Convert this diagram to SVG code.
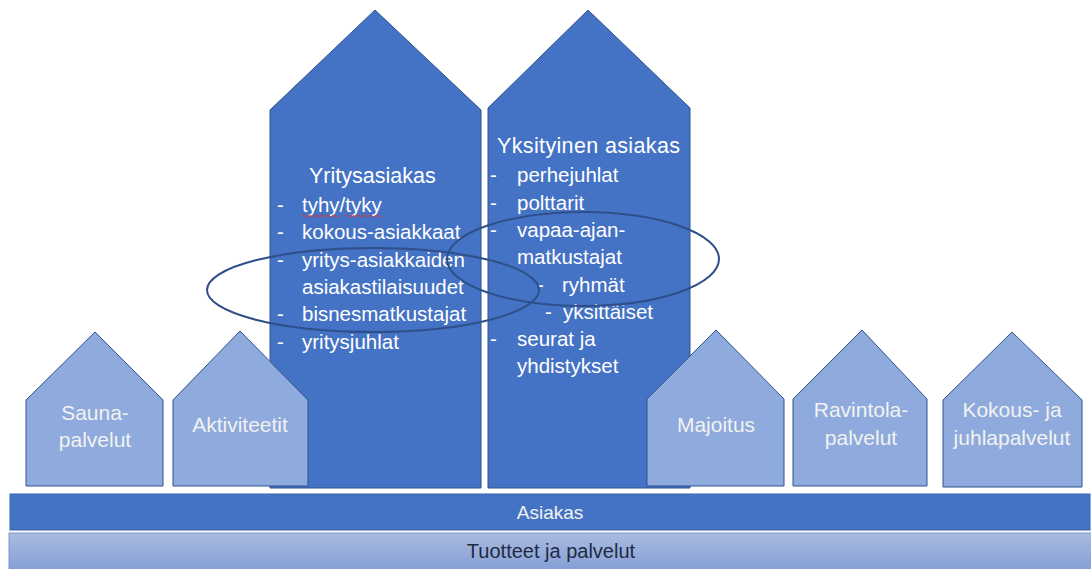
<svg xmlns="http://www.w3.org/2000/svg" width="1091" height="569" viewBox="0 0 1091 569">
  <defs>
    <linearGradient id="barGrad" x1="0" y1="0" x2="0" y2="1">
      <stop offset="0" stop-color="#AABBE0"/>
      <stop offset="1" stop-color="#859FD6"/>
    </linearGradient>
  </defs>
  <style>
    .big { fill: #4472C4; stroke: #2F528F; stroke-width: 1; }
    .small { fill: #8FAADC; stroke: #2F528F; stroke-width: 1; }
    .t { font-family: "Liberation Sans", Arial, sans-serif; font-size: 20.5px; fill: #FFFFFF; }
    .title { font-size: 21.5px; }
    .ts { font-family: "Liberation Sans", Arial, sans-serif; font-size: 21px; fill: #F2F2F2; text-anchor: middle; }
    .bar { font-family: "Liberation Sans", Arial, sans-serif; font-size: 19px; text-anchor: middle; }
    .ring { fill: none; stroke: #2F4F8A; stroke-width: 2; }
    .squig { fill: none; stroke: #E03030; stroke-width: 1; }
  </style>

  <rect width="1091" height="569" fill="#FFFFFF"/>

  <!-- customer segment houses -->
  <g id="yritysasiakas">
    <path class="big" d="M270 110 L375 10 L481 110 L481 488 L270 488 Z"/>
    <text class="t title" x="309" y="183">Yritysasiakas</text>
    <text class="t" x="277" y="212">-</text><text class="t" x="302" y="212">tyhy/tyky</text>
    <path class="squig" d="M302 216 q1.5 -2 3 0 t3 0 t3 0 t3 0 t3 0 t3 0 t3 0 t3 0 t3 0 t3 0 t3 0 t3 0"/>
    <path class="squig" d="M345 216 q1.5 -2 3 0 t3 0 t3 0 t3 0 t3 0 t3 0 t3 0 t3 0 t3 0 t3 0 t3 0 t3 0"/>
    <text class="t" x="277" y="239">-</text><text class="t" x="302" y="239">kokous-asiakkaat</text>
    <text class="t" x="277" y="267">-</text><text class="t" x="302" y="267">yritys-asiakkaiden</text>
    <text class="t" x="302" y="294">asiakastilaisuudet</text>
    <text class="t" x="277" y="321">-</text><text class="t" x="302" y="321">bisnesmatkustajat</text>
    <text class="t" x="277" y="349">-</text><text class="t" x="302" y="349">yritysjuhlat</text>
  </g>

  <g id="yksityinen-asiakas">
    <path class="big" d="M488 108 L588 10 L690 108 L690 488 L488 488 Z"/>
    <text class="t title" x="497" y="153" textLength="183">Yksityinen asiakas</text>
    <text class="t" x="490" y="182">-</text><text class="t" x="517" y="182">perhejuhlat</text>
    <text class="t" x="490" y="210">-</text><text class="t" x="517" y="210">polttarit</text>
    <text class="t" x="490" y="237">-</text><text class="t" x="517" y="237">vapaa-ajan-</text>
    <text class="t" x="517" y="264">matkustajat</text>
    <text class="t" x="537" y="292">-</text><text class="t" x="562" y="292">ryhmät</text>
    <text class="t" x="545" y="319">-</text><text class="t" x="563" y="319">yksittäiset</text>
    <text class="t" x="490" y="346">-</text><text class="t" x="517" y="346">seurat ja</text>
    <text class="t" x="517" y="373">yhdistykset</text>
  </g>

  <!-- service houses -->
  <g id="saunapalvelut">
    <path class="small" d="M26 400 L95 332 L163 400 L163 486 L26 486 Z"/>
    <text class="ts" x="95" y="420">Sauna-</text>
    <text class="ts" x="95" y="447">palvelut</text>
  </g>
  <g id="aktiviteetit">
    <path class="small" d="M173 400 L240 331 L308 400 L308 486 L173 486 Z"/>
    <text class="ts" x="240" y="432">Aktiviteetit</text>
  </g>
  <g id="majoitus">
    <path class="small" d="M647 399 L716 330 L784 399 L784 486 L647 486 Z"/>
    <text class="ts" x="716" y="432">Majoitus</text>
  </g>
  <g id="ravintolapalvelut">
    <path class="small" d="M793 399 L862 330 L927 399 L927 486 L793 486 Z"/>
    <text class="ts" x="861" y="417">Ravintola-</text>
    <text class="ts" x="861" y="445">palvelut</text>
  </g>
  <g id="kokous-ja-juhlapalvelut">
    <path class="small" d="M943 400 L1012 332 L1082 400 L1082 487 L943 487 Z"/>
    <text class="ts" x="1012" y="417">Kokous- ja</text>
    <text class="ts" x="1012" y="445">juhlapalvelut</text>
  </g>

  <!-- foundation bars -->
  <g id="asiakas">
    <rect x="10" y="494" width="1080" height="36" fill="#4472C4" stroke="#3A64B0" stroke-width="1"/>
    <text class="bar" x="550" y="519" fill="#F2F2F2">Asiakas</text>
  </g>
  <g id="tuotteet-ja-palvelut">
    <rect x="9" y="533" width="1083" height="37" fill="url(#barGrad)" stroke="#7E97CF" stroke-width="1"/>
    <text class="bar" x="551" y="558" fill="#1F2A44" style="font-size:20px">Tuotteet ja palvelut</text>
  </g>

  <!-- overlap rings -->
  <g id="connectors">
    <ellipse class="ring" cx="373" cy="290" rx="166" ry="42"/>
    <ellipse class="ring" cx="583" cy="259" rx="136" ry="47"/>
  </g>
</svg>
